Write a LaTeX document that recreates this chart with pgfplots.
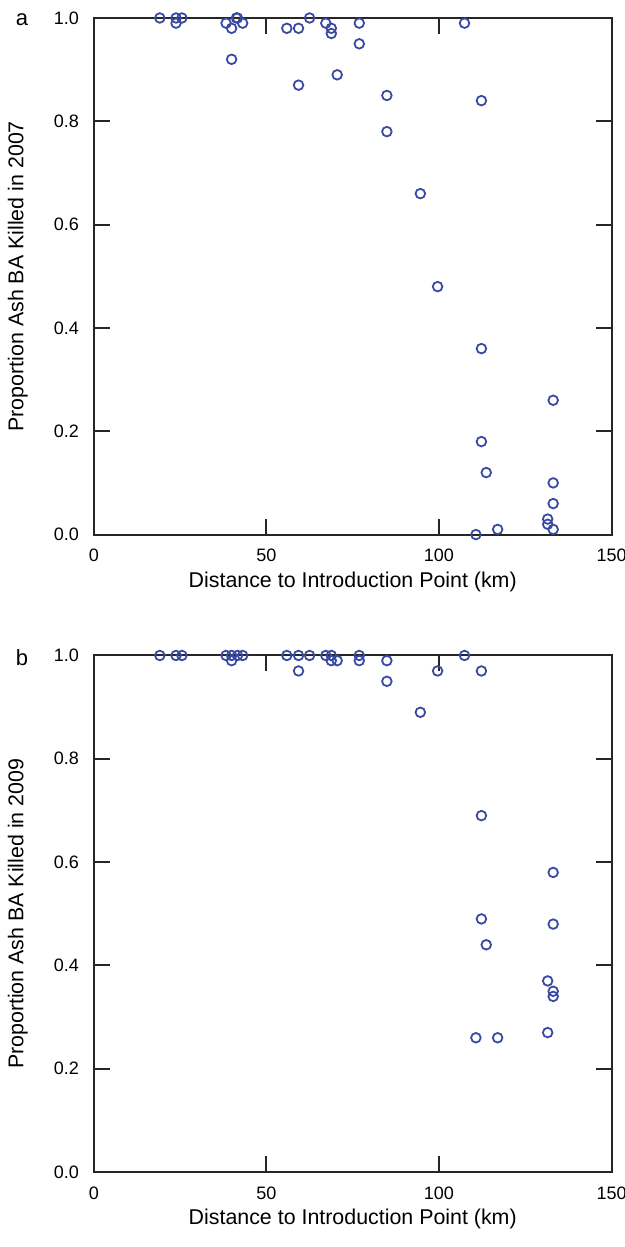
\documentclass[border=0pt]{standalone}
\usepackage{fontspec}
\setmainfont{Liberation Sans}
\usepackage{pgfplots}
\pgfplotsset{compat=1.18}
\definecolor{ptblue}{RGB}{58,74,163}

\pgfplotsset{
  ashpanel/.style={
    scale only axis, width=259pt, height=258.5pt,
    xmin=0, xmax=150, ymin=0, ymax=1,
    xtick={0,50,100,150}, ytick={0,0.2,0.4,0.6,0.8,1.0},
    tick align=inside, major tick length=8pt,
    axis line style={line width=1pt, black!85},
    every tick/.style={line width=1pt, black!85},
    /pgf/number format/assume math mode=true,
    yticklabel style={/pgf/number format/fixed, /pgf/number format/precision=1,
      /pgf/number format/fixed zerofill, font=\fontsize{9}{11}\selectfont, xshift=-4pt},
    xticklabel style={font=\fontsize{9}{11}\selectfont, yshift=-3.75pt},
    xlabel={Distance to Introduction Point (km)},
    x label style={at={(axis description cs:0.5,-0.091)}, anchor=center, font=\fontsize{10.7}{13}\selectfont},
    y label style={at={(axis description cs:-0.147,0.5)}, anchor=center, font=\fontsize{10.7}{13}\selectfont},
    clip=false,
  },
  ashmarks/.style={only marks, mark=o, mark size=2.4pt, draw=ptblue, mark options={line width=0.9pt, draw=ptblue}},
}

\begin{document}
\begin{tikzpicture}
\useasboundingbox (-47pt,-356.5pt) rectangle (265.5pt,267.5pt);
\begin{axis}[ashpanel, at={(0,0)}, anchor=south west,
  ylabel={Proportion Ash BA Killed in 2007}]
\addplot[ashmarks] coordinates {
 (19.1,1.00) (23.8,1.00) (23.8,0.99) (25.5,1.00) (38.3,0.99) (39.9,0.98) (39.9,0.92)
 (41.6,1.00) (41.3,1.00) (43.1,0.99) (55.9,0.98) (59.3,0.98) (59.3,0.87) (62.5,1.00)
 (67.2,0.99) (68.8,0.98) (68.8,0.97) (70.5,0.89) (76.9,0.99) (76.9,0.95) (84.9,0.85)
 (84.9,0.78) (94.6,0.66) (99.6,0.48) (107.4,0.99) (112.3,0.84) (112.3,0.36) (112.3,0.18)
 (113.7,0.12) (110.7,0.00) (117.0,0.01) (131.5,0.03) (131.5,0.02) (133.1,0.26)
 (133.1,0.10) (133.1,0.06) (133.1,0.01)
};
\node[font=\fontsize{11}{13}\selectfont] at (axis description cs:-0.139,0.996) {a};
\end{axis}
\begin{axis}[ashpanel, at={(0,-319pt)}, anchor=south west,
  ylabel={Proportion Ash BA Killed in 2009}]
\addplot[ashmarks] coordinates {
 (19.1,1.00) (23.8,1.00) (25.5,1.00) (38.3,1.00) (39.9,0.99) (39.9,1.00) (41.6,1.00)
 (43.1,1.00) (55.9,1.00) (59.3,1.00) (59.3,0.97) (62.5,1.00) (67.2,1.00) (68.8,1.00)
 (68.8,0.99) (70.5,0.99) (76.9,1.00) (76.9,0.99) (84.9,0.99) (84.9,0.95) (94.6,0.89)
 (99.6,0.97) (107.4,1.00) (112.3,0.97) (112.3,0.69) (112.3,0.49) (113.7,0.44)
 (110.7,0.26) (117.0,0.26) (131.5,0.37) (131.5,0.27) (133.1,0.58) (133.1,0.48)
 (133.1,0.35) (133.1,0.34)
};
\node[font=\fontsize{11}{13}\selectfont] at (axis description cs:-0.139,0.996) {b};
\end{axis}
\end{tikzpicture}
\end{document}
